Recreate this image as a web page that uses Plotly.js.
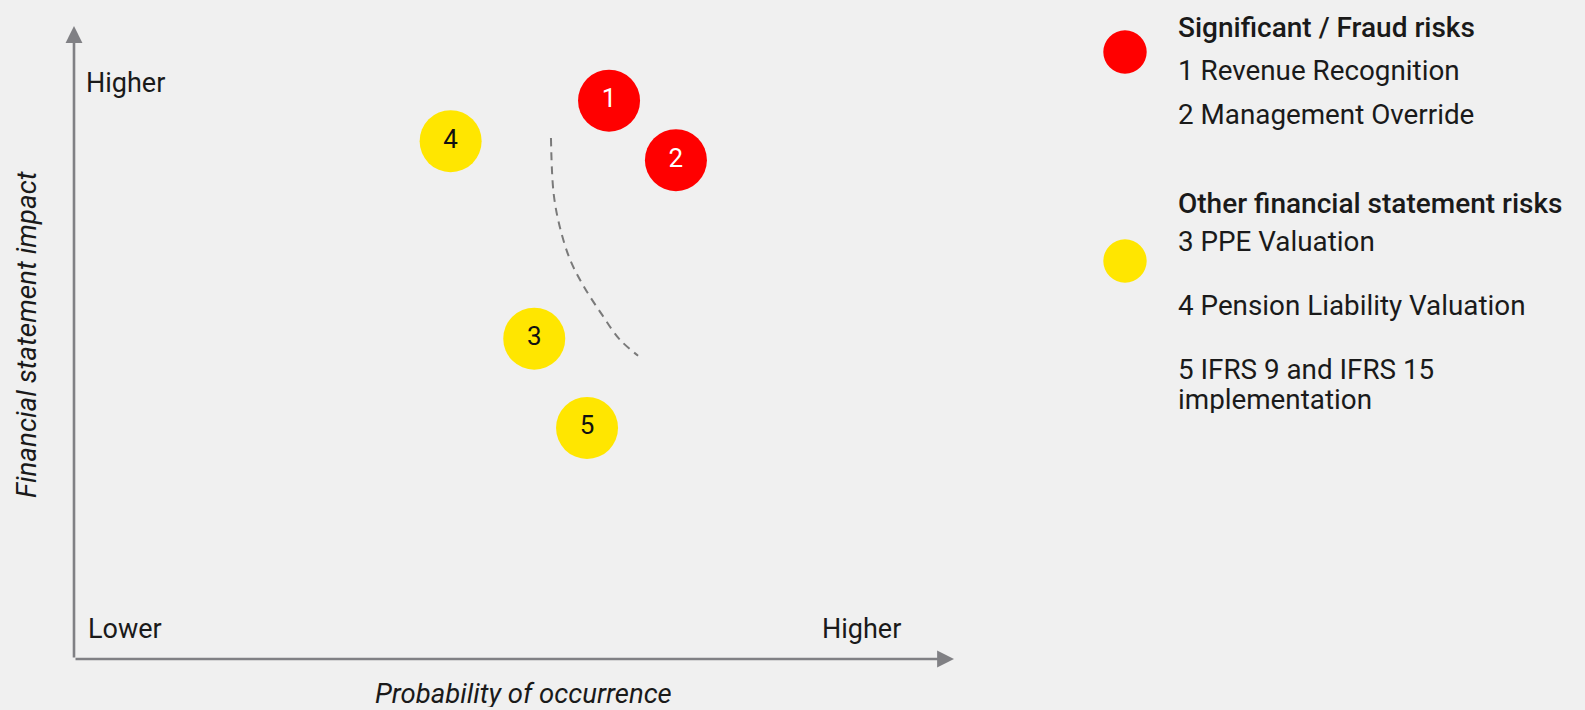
<!DOCTYPE html>
<html>
<head>
<meta charset="utf-8">
<script src="https://cdn.plot.ly/plotly-3.0.1.min.js"></script>
<style>
  html, body { margin: 0; padding: 0; background: #f0f0f0; }
  #chart { width: 1585px; height: 710px; }
</style>
</head>
<body>
<div id="chart"></div>
<script>
// ---- Data ----
const riskIds = ['1', '2', '3', '4', '5'];
const riskGroup = ['Significant', 'Significant', 'Other', 'Other', 'Other'];
const probability = [6.08, 6.84, 5.23, 4.28, 5.83];   // x: probability of occurrence (0-10)
const impact = [8.82, 7.88, 5.06, 8.18, 3.65];        // y: financial statement impact (0-10)
const boundaryX = [5.42, 5.45, 5.52, 5.64, 5.80, 6.00, 6.20, 6.41];
const boundaryY = [8.23, 7.36, 6.83, 6.30, 5.87, 5.44, 5.05, 4.79];
const legendTitles = ['Significant / Fraud risks', 'Other financial statement risks'];
const legendItems = ['1 Revenue Recognition', '2 Management Override', '3 PPE Valuation',
                     '4 Pension Liability Valuation', '5 IFRS 9 and IFRS 15', 'implementation'];
const axisLow = 'Lower', axisHigh = 'Higher';
const xTitle = 'Probability of occurrence';
const yTitle = 'Financial statement impact';

// ---- Styles ----
const groupColor = { Significant: '#ff0000', Other: '#ffe600' };
const groupText = { Significant: '#ffffff', Other: '#111111' };
const FONT = 'Roboto, "Noto Sans", sans-serif';
const TXT = '#1a1a1a';
const AXC = '#808084';
const FS = 27;
const LFS = 27.8;

// plot area geometry (pixels)
const W = 1585, H = 710;
const L = 74, R = 954, T = 26, B = 659;
const px = v => (v - L) / (R - L);
const py = v => (B - v) / (B - T);

const traces = [
  {
    type: 'scatter', mode: 'lines',
    x: boundaryX, y: boundaryY,
    line: { color: '#7a7a7a', width: 2, dash: '8px,6px', shape: 'spline' },
    hoverinfo: 'skip'
  },
  {
    type: 'scatter', mode: 'markers+text',
    x: probability, y: impact, text: riskIds,
    textposition: 'middle center',
    marker: { size: 62, color: riskGroup.map(g => groupColor[g]), line: { width: 0 } },
    textfont: { family: FONT, size: 26, color: riskGroup.map(g => groupText[g]) },
    cliponaxis: false,
    hoverinfo: 'skip'
  }
];

const ann = [];
function label(text, x, y, opts) {
  ann.push(Object.assign({
    text: text, xref: 'paper', yref: 'paper', x: px(x), y: py(y),
    xanchor: 'left', yanchor: 'middle', showarrow: false,
    font: { family: FONT, size: FS, color: TXT }
  }, opts || {}));
}
// axes arrows
ann.push({ xref: 'x', yref: 'y', axref: 'x', ayref: 'y', x: 10, y: 0, ax: 0, ay: 0, text: '',
  showarrow: true, arrowhead: 2, arrowsize: 1.3, arrowwidth: 2.6, arrowcolor: AXC, standoff: 0 });
ann.push({ xref: 'x', yref: 'y', axref: 'x', ayref: 'y', x: 0, y: 10, ax: 0, ay: 0, text: '',
  showarrow: true, arrowhead: 2, arrowsize: 1.3, arrowwidth: 2.6, arrowcolor: AXC, standoff: 0 });

label(axisHigh, 84, 83);
label(axisLow, 86, 629);
label(axisHigh, 820, 629);
label(xTitle, 523, 693, { xanchor: 'center', height: 28, valign: 'middle',
  font: { family: FONT, size: 27.5, color: TXT, style: 'italic' } });
label(yTitle, 26, 335, { xanchor: 'center', textangle: -90,
  font: { family: FONT, size: 27.8, color: TXT, style: 'italic' } });

// legend text
const LX = 1176;
const lf = { family: FONT, size: LFS, color: TXT };
const tf = { family: FONT, size: 28, color: TXT, weight: 500 };
label(legendTitles[0], LX, 27, { font: tf });
label(legendItems[0], LX, 70, { font: lf });
label(legendItems[1], LX, 114, { font: lf });
label(legendTitles[1], LX, 203, { font: tf });
label(legendItems[2], LX, 241, { font: lf });
label(legendItems[3], LX, 305, { font: lf });
label(legendItems[4], LX, 369, { font: lf, height: 28, valign: 'middle' });
label(legendItems[5], LX, 399, { font: lf, height: 28, valign: 'middle' });

const shapes = [
  { type: 'circle', xref: 'paper', yref: 'paper', xsizemode: 'pixel', ysizemode: 'pixel',
    xanchor: px(1125), yanchor: py(52), x0: -21.7, x1: 21.7, y0: -21.7, y1: 21.7,
    fillcolor: groupColor.Significant, line: { width: 0 } },
  { type: 'circle', xref: 'paper', yref: 'paper', xsizemode: 'pixel', ysizemode: 'pixel',
    xanchor: px(1125), yanchor: py(261), x0: -21.7, x1: 21.7, y0: -21.7, y1: 21.7,
    fillcolor: groupColor.Other, line: { width: 0 } }
];

const layout = {
  width: W, height: H,
  margin: { l: L, r: W - R, t: T, b: H - B, pad: 0 },
  paper_bgcolor: '#f0f0f0', plot_bgcolor: '#f0f0f0',
  showlegend: false,
  xaxis: { range: [0, 10], showgrid: false, zeroline: false, showticklabels: false, showline: false, ticks: '', fixedrange: true },
  yaxis: { range: [0, 10], showgrid: false, zeroline: false, showticklabels: false, showline: false, ticks: '', fixedrange: true },
  annotations: ann,
  shapes: shapes,
  font: { family: FONT }
};

Plotly.newPlot('chart', traces, layout, { staticPlot: true, displayModeBar: false });
</script>
</body>
</html>
